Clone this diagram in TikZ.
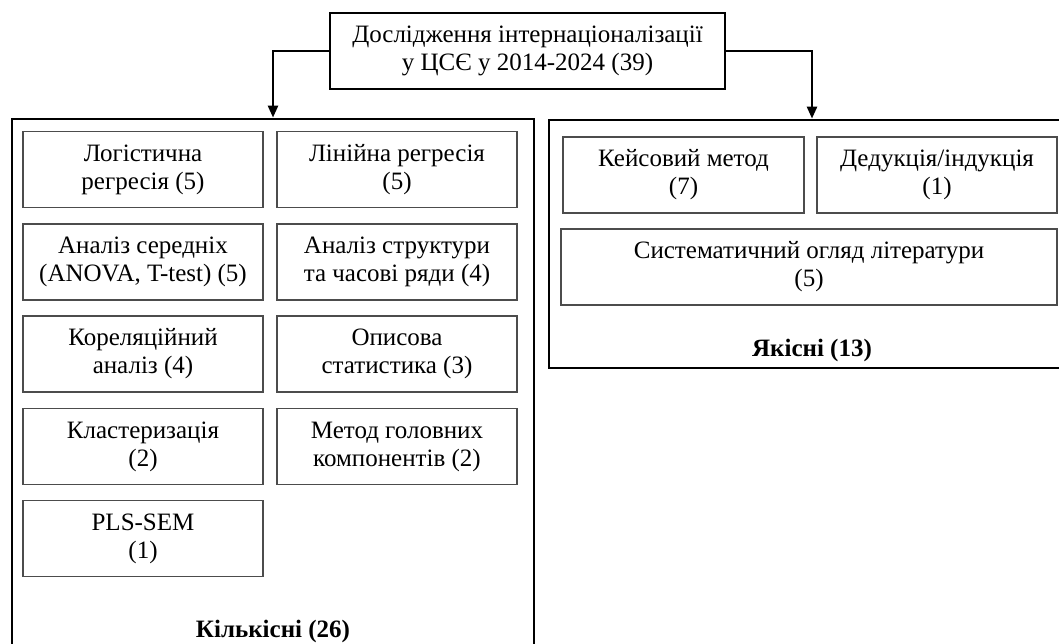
\documentclass[tikz,border=0pt]{standalone}
\usepackage{fontspec}
\setmainfont{Liberation Serif}
\usetikzlibrary{arrows.meta}
\begin{document}
\begin{tikzpicture}[x=1pt,y=-1pt,
  txt/.style={font=\fontsize{25}{28}\selectfont, align=center},
  inbox/.style={txt, draw=black!70, line width=1.4pt, inner sep=0pt, minimum width=240pt, minimum height=76pt},
  bigbox/.style={draw=black, line width=2.8pt, inner sep=0pt},
  arr/.style={draw=black, line width=2.5pt, -{Triangle[length=12pt,width=10pt]}},
  lbl/.style={font=\fontsize{25}{28}\selectfont\bfseries}]
\useasboundingbox (0,0) rectangle (1059,644);
% group containers
\node[bigbox, minimum width=522pt, minimum height=531pt] (kil) at (273,384.5) {};
\node[bigbox, minimum width=526pt, minimum height=248pt] (yak) at (812,244) {};
% root
\node[txt, draw=black, line width=2.8pt, inner sep=0pt, minimum width=395pt, minimum height=76pt] (root) at (527.5,51)
  {Дослідження інтернаціоналізації\\у ЦСЄ у 2014-2024 (39)};
% connectors
\draw[arr] (root.west) -| (kil.north);
\draw[arr] (root.east) -| (yak.north);
% quantitative methods
\node[inbox] (q1) at (143,169.5) {Логістична\\регресія (5)};
\node[inbox] (q2) at (397,169.5) {Лінійна регресія\\(5)};
\node[inbox] (q3) at (143,262) {Аналіз середніх\\(ANOVA, T-test) (5)};
\node[inbox] (q4) at (397,262) {Аналіз структури\\та часові ряди (4)};
\node[inbox] (q5) at (143,354) {Кореляційний\\аналіз (4)};
\node[inbox] (q6) at (397,354) {Описова\\статистика (3)};
\node[inbox] (q7) at (143,446.5) {Кластеризація\\(2)};
\node[inbox] (q8) at (397,446.5) {Метод головних\\компонентів (2)};
\node[inbox] (q9) at (143,538.5) {PLS-SEM\\(1)};
\node[lbl] (kiltitle) at (273,631) {Кількісні (26)};
% qualitative methods
\node[inbox, minimum width=241pt] (y1) at (683.5,175) {Кейсовий метод\\(7)};
\node[inbox] (y2) at (937,175) {Дедукція/індукція\\(1)};
\node[inbox, minimum width=496pt] (y3) at (809,267) {Систематичний огляд літератури\\(5)};
\node[lbl] (yaktitle) at (812,350) {Якісні (13)};
\end{tikzpicture}
\end{document}
